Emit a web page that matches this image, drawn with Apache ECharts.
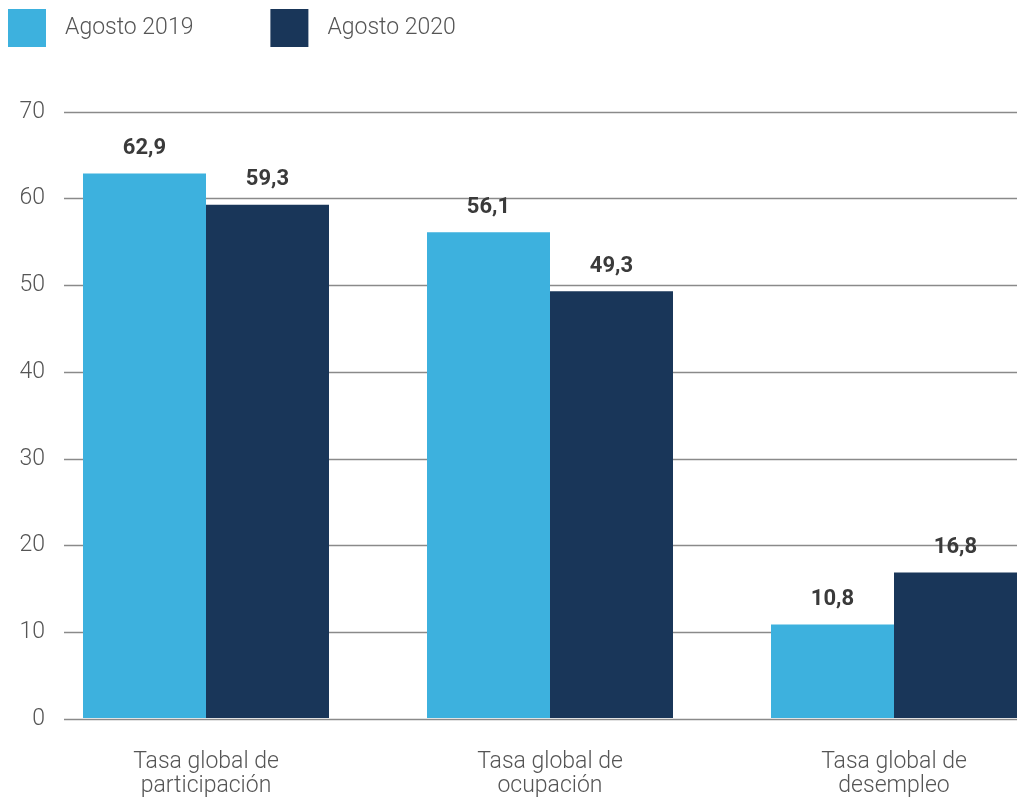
<!DOCTYPE html>
<html>
<head>
<meta charset="utf-8">
<script src="https://cdn.jsdelivr.net/npm/echarts@6/dist/echarts.min.js"></script>
<style>html,body{margin:0;padding:0;background:#fff;overflow:hidden;width:1017px;height:798px}#c{width:1066px;height:798px}</style>
</head>
<body>
<div id="c"></div>
<script>
const categories = ['Tasa global de\nparticipación', 'Tasa global de\nocupación', 'Tasa global de\ndesempleo'];
const seriesNames = ['Agosto 2019', 'Agosto 2020'];
const values2019 = [62.9, 56.1, 10.8];
const values2020 = [59.3, 49.3, 16.8];
const yTicks = { min: 0, max: 70, interval: 10 };

const chart = echarts.init(document.getElementById('c'));
const font = 'Roboto, "Noto Sans", sans-serif';
const labelCfg = {
  show: true, position: 'top', distance: 14,
  fontFamily: font, fontWeight: 'bold', fontSize: 22, color: '#3a3a3a',
  formatter: p => String(p.value).replace('.', ',')
};
chart.setOption({
  animation: false,
  color: ['#3db1de', '#193659'],
  legend: {
    left: 3, top: 4, itemWidth: 38, itemHeight: 38, itemGap: 77,
    icon: 'rect',
    textStyle: { fontFamily: font, fontWeight: 300, fontSize: 23, color: '#555', padding: [0, 0, 0, 14] },
    data: seriesNames
  },
  grid: [
    { left: 64, right: 49, top: 112, bottom: 79 },
    { left: 34, right: 0, top: 112, bottom: 79 }
  ],
  xAxis: [
    { gridIndex: 0, type: 'category', data: categories, show: false },
    { gridIndex: 1, type: 'category', data: categories,
      axisLine: { show: false }, axisTick: { show: false },
      axisLabel: { fontFamily: font, fontWeight: 300, fontSize: 23, lineHeight: 24, color: '#555', margin: 32, interval: 0 } }
  ],
  yAxis: [
    { gridIndex: 0, type: 'value', min: yTicks.min, max: yTicks.max, interval: yTicks.interval,
      axisLine: { show: false }, axisTick: { show: false },
      splitLine: { lineStyle: { color: '#8a8a8a', width: 1.3 } },
      axisLabel: { fontFamily: font, fontWeight: 300, fontSize: 23, color: '#555', margin: 19 } },
    { gridIndex: 1, type: 'value', min: yTicks.min, max: yTicks.max, interval: yTicks.interval, show: false, splitLine: { show: false } }
  ],
  series: [
    { name: seriesNames[0], type: 'bar', xAxisIndex: 1, yAxisIndex: 1, data: values2019, barWidth: 123, barGap: '0%', label: labelCfg },
    { name: seriesNames[1], type: 'bar', xAxisIndex: 1, yAxisIndex: 1, data: values2020, barWidth: 123, barGap: '0%', label: labelCfg }
  ]
});
</script>
</body>
</html>
